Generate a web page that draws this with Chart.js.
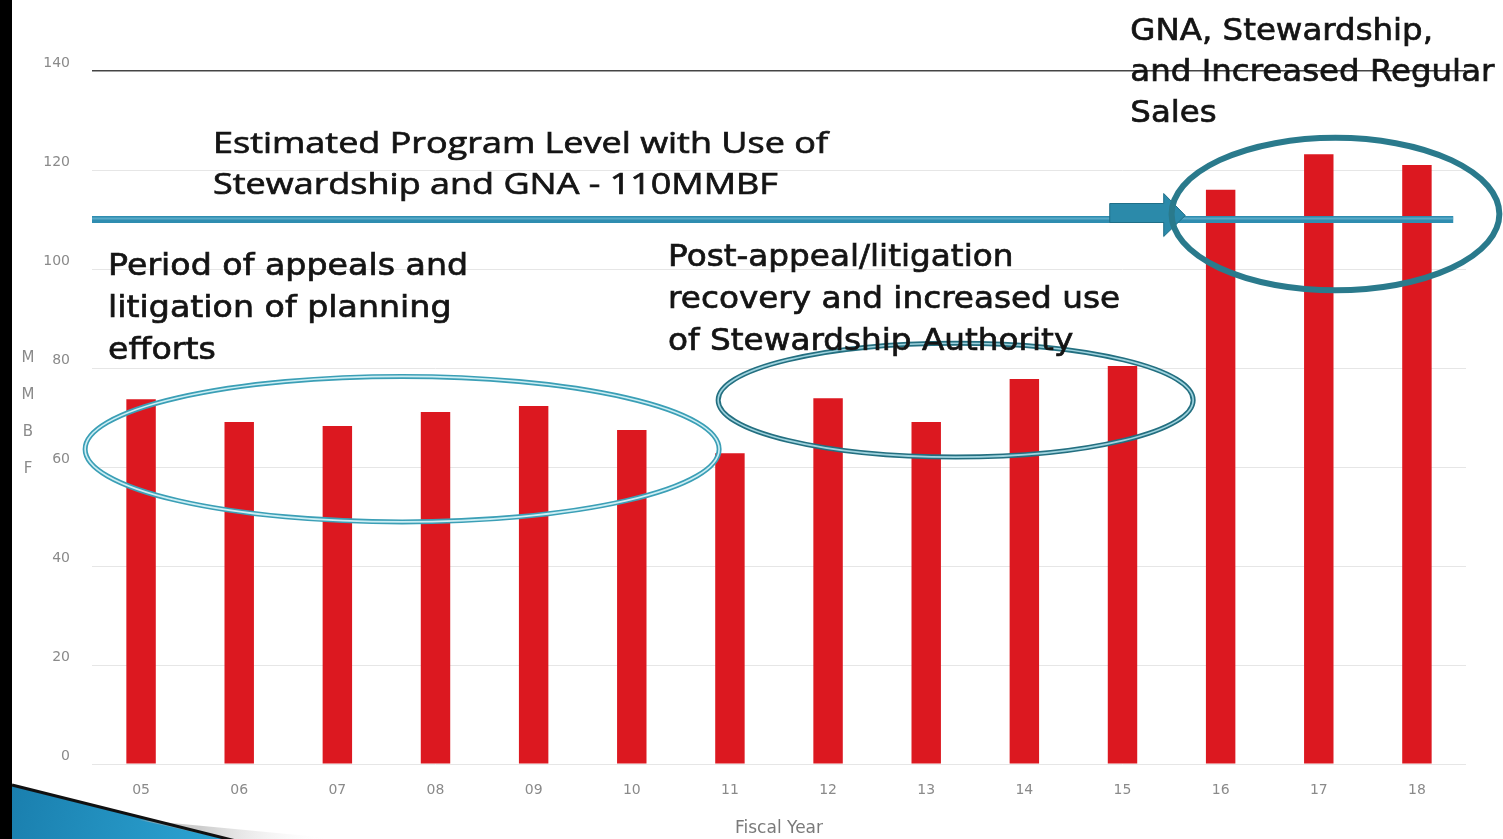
<!DOCTYPE html>
<html>
<head>
<meta charset="utf-8">
<script src="https://cdn.jsdelivr.net/npm/chart.js@4/dist/chart.umd.min.js"></script>
<style>
  html, body { margin: 0; padding: 0; background: #ffffff; overflow: hidden; }
  #c { display: block; }
</style>
</head>
<body>
<canvas id="c" width="1503" height="839"></canvas>
<script>
// ---- data ----
const fiscalYears = ["05","06","07","08","09","10","11","12","13","14","15","16","17","18"];
const salesMMBF   = [73.7, 69.1, 68.3, 71.1, 72.3, 67.5, 62.8, 73.9, 69.1, 77.8, 80.4, 116, 123.2, 121];
const yTicks      = [0, 20, 40, 60, 80, 100, 120, 140];
const programLevel = 110;
const yAxisLetters = ["M","M","B","F"];
const xAxisTitle = "Fiscal Year";

const noteAppeals  = ["Period of appeals and", "litigation of planning", "efforts"];
const noteProgram  = ["Estimated Program Level with Use of", "Stewardship and GNA - 110MMBF"];
const notePost     = ["Post-appeal/litigation", "recovery and increased use", "of Stewardship Authority"];
const noteGNA      = ["GNA, Stewardship,", "and Increased Regular", "Sales"];

// ---- annotations plugin (positions in data space) ----
const overlay = {
  id: 'overlay',
  beforeDraw(chart) {
    const ctx = chart.ctx;
    ctx.save();
    ctx.fillStyle = '#ffffff';
    ctx.fillRect(0, 0, chart.width, chart.height);
    ctx.restore();
  },
  afterDatasetsDraw(chart) {
    const ctx = chart.ctx;
    const xs = chart.scales.x, ys = chart.scales.y;
    const step = xs.getPixelForValue(1) - xs.getPixelForValue(0);
    const X = v => xs.getPixelForValue(0) + v * step;
    const Y = v => ys.getPixelForValue(v);
    const unit = Y(0) - Y(1);

    // program level line
    const ly = Y(programLevel);
    ctx.save();
    ctx.strokeStyle = '#2f8db0';
    ctx.lineWidth = 7;
    ctx.beginPath();
    ctx.moveTo(chart.chartArea.left, ly);
    ctx.lineTo(X(13.37), ly);
    ctx.stroke();
    ctx.strokeStyle = 'rgba(120,190,215,0.6)';
    ctx.lineWidth = 2;
    ctx.beginPath();
    ctx.moveTo(chart.chartArea.left, ly - 1);
    ctx.lineTo(X(13.37), ly - 1);
    ctx.stroke();

    // block arrow
    ctx.fillStyle = '#2b8aaa';
    ctx.strokeStyle = '#1f6f88';
    ctx.lineWidth = 1;
    ctx.beginPath();
    ctx.moveTo(X(9.87), ly - 16);
    ctx.lineTo(X(10.42), ly - 16);
    ctx.lineTo(X(10.42), ly - 26);
    ctx.lineTo(X(10.64), ly - 4);
    ctx.lineTo(X(10.42), ly + 17);
    ctx.lineTo(X(10.42), ly + 3);
    ctx.lineTo(X(9.87), ly + 3);
    ctx.closePath();
    ctx.fill();
    ctx.stroke();
    ctx.restore();

    // ellipses
    function ell(cx, cy, rx, ry, outer, inner, w) {
      ctx.save();
      ctx.beginPath();
      ctx.ellipse(X(cx), Y(cy), rx * step, ry * unit, 0, 0, Math.PI * 2);
      ctx.strokeStyle = outer;
      ctx.lineWidth = w;
      ctx.stroke();
      if (inner) {
        ctx.strokeStyle = inner;
        ctx.lineWidth = Math.max(1, w / 3);
        ctx.stroke();
      }
      ctx.restore();
    }
    ell(2.66, 63.6, 3.23, 14.7, '#3b9fb6', '#cdeef4', 5);
    ell(8.30, 73.5, 2.42, 11.5, '#236f80', '#9fd3de', 5);
    ell(12.17, 111.1, 1.67, 15.4, '#2a7a8c', null, 6);

    // text notes, one line stretched to the width seen in the reference
    function note(lines, xi, yv, font, gap, refLine, width) {
      ctx.save();
      ctx.font = font;
      ctx.fillStyle = '#141414';
      ctx.strokeStyle = '#141414';
      ctx.lineWidth = 0.7;
      ctx.textAlign = 'left';
      ctx.textBaseline = 'alphabetic';
      const sx = width / ctx.measureText(lines[refLine]).width;
      ctx.translate(X(xi), Y(yv));
      ctx.scale(sx, 1);
      lines.forEach((t, i) => { ctx.fillText(t, 0, i * gap); ctx.strokeText(t, 0, i * gap); });
      ctx.restore();
    }
    note(noteAppeals, -0.336, 98.8, '31px "DejaVu Sans", sans-serif', 42, 0, 360);
    note(noteProgram, 0.733, 123.4, '30px "Open Sans", sans-serif', 41, 0, 615);
    note(notePost, 5.37, 100.6, '31px "DejaVu Sans", sans-serif', 42, 1, 452);
    note(noteGNA, 10.08, 146.3, '31px "DejaVu Sans", sans-serif', 41, 1, 364);

    // stacked y-axis title letters
    ctx.save();
    ctx.font = '15px "DejaVu Sans", sans-serif';
    ctx.fillStyle = '#8a8a8a';
    ctx.textAlign = 'center';
    ctx.textBaseline = 'middle';
    yAxisLetters.forEach((l, i) => ctx.fillText(l, 28, Y(82.0) + i * 37));
    ctx.restore();

    // left frame bar and corner swoosh
    ctx.save();
    ctx.fillStyle = '#000000';
    ctx.fillRect(0, 0, 12, chart.height);
    const g = ctx.createLinearGradient(12, 790, 200, 839);
    g.addColorStop(0, '#1a7fae');
    g.addColorStop(1, '#2aa0cf');
    ctx.fillStyle = g;
    ctx.beginPath();
    ctx.moveTo(12, 785);
    ctx.lineTo(225, 839);
    ctx.lineTo(12, 839);
    ctx.closePath();
    ctx.fill();
    const g2 = ctx.createLinearGradient(200, 839, 330, 839);
    g2.addColorStop(0, 'rgba(170,170,170,0.6)');
    g2.addColorStop(1, 'rgba(255,255,255,0)');
    ctx.fillStyle = g2;
    ctx.beginPath();
    ctx.moveTo(140, 820);
    ctx.lineTo(340, 839);
    ctx.lineTo(225, 839);
    ctx.closePath();
    ctx.fill();
    ctx.strokeStyle = '#111';
    ctx.lineWidth = 3;
    ctx.beginPath();
    ctx.moveTo(12, 785);
    ctx.lineTo(240, 842);
    ctx.stroke();
    ctx.restore();
  }
};

new Chart(document.getElementById('c'), {
  type: 'bar',
  data: {
    labels: fiscalYears,
    datasets: [{
      data: salesMMBF,
      backgroundColor: '#dc1820',
      borderWidth: 0,
      barPercentage: 0.3,
      categoryPercentage: 1.0
    }]
  },
  options: {
    responsive: false,
    animation: false,
    devicePixelRatio: 1,
    layout: { padding: { top: 71, right: 37, left: 0, bottom: 0 } },
    plugins: { legend: { display: false }, tooltip: { enabled: false } },
    scales: {
      x: {
        grid: { display: false },
        border: { display: false },
        ticks: { color: '#8a8a8a', font: { family: 'DejaVu Sans', size: 14 }, padding: 10, maxRotation: 0 },
        title: { display: true, text: xAxisTitle, color: '#7a7a7a', font: { family: 'DejaVu Sans', size: 17 }, padding: { top: 4, bottom: 0 } },
        afterFit(s) { s.height = 75; }
      },
      y: {
        min: 0, max: 140,
        afterBuildTicks(s) { s.ticks = yTicks.map(v => ({ value: v })); },
        border: { display: false },
        grid: {
          drawTicks: false,
          color: c => (c.tick && c.tick.value === 140) ? '#444444' : '#e6e6e6',
          lineWidth: c => (c.tick && c.tick.value === 140) ? 1.5 : 1
        },
        ticks: { color: '#8a8a8a', font: { family: 'DejaVu Sans', size: 14 }, padding: 22, labelOffset: -8 },
        afterFit(s) { s.width = 92; }
      }
    }
  },
  plugins: [overlay]
});
</script>
</body>
</html>
